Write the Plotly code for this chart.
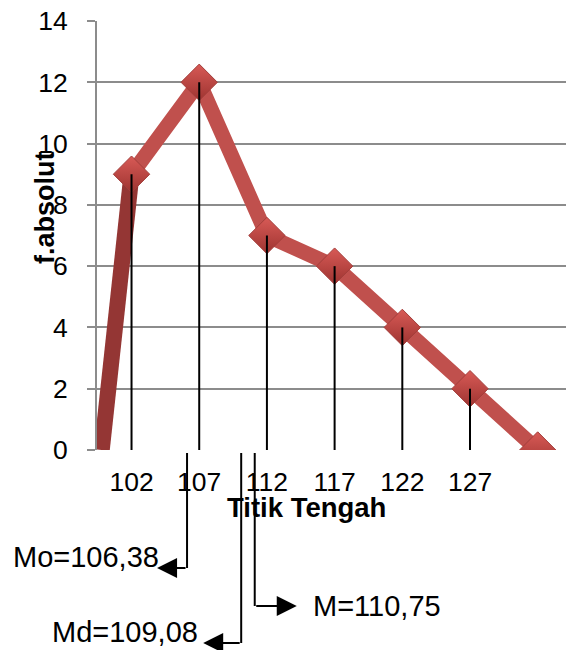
import plotly.graph_objects as go

# ---- data ----
categories = [102, 107, 112, 117, 122, 127]          # titik tengah
f_absolut = [9, 12, 7, 6, 4, 2]                       # frekuensi absolut
poly_start_x = 99.8                                   # polygon closes at y=0
poly_end_x = 132
y_ticks = [0, 2, 4, 6, 8, 10, 12, 14]

stat_labels = ["Mo=106,38", "Md=109,08", "M=110,75"]
stat_line_x = [106.1, 110.1, 111.1]                   # where the pointer lines are drawn

RED = "#C0504D"
DARK = "#943634"
GRID = "#8C8C8C"
FONT = "Liberation Sans, Arial, sans-serif"

L, T, PW, PH = 97, 21, 469, 429
X0, X1 = 99.45, 134.09
PX_PER_UNIT = PW / (X1 - X0)

def px_x(p):
    return (p - L) / PW

def px_y(p):
    return (T + PH - p) / PH

fig = go.Figure()

# first (shadowed) segment
fig.add_trace(go.Scatter(
    x=[poly_start_x, categories[0]], y=[0, f_absolut[0]],
    mode="lines", line=dict(color=DARK, width=16), hoverinfo="skip", showlegend=False))

# main polygon
fig.add_trace(go.Scatter(
    x=categories + [poly_end_x], y=f_absolut + [0],
    mode="lines+markers",
    line=dict(color=RED, width=15),
    marker=dict(symbol="diamond", size=28, color="#D85A56",
                gradient=dict(type="vertical", color="#9E3431"),
                line=dict(color="#A33E3B", width=1)),
    showlegend=False))

# vertical drop lines from each point to the axis
vx, vy = [], []
for c, v in zip(categories, f_absolut):
    vx += [c, c, None]
    vy += [v, 0, None]
fig.add_trace(go.Scatter(x=vx, y=vy, mode="lines",
                         line=dict(color="black", width=2), hoverinfo="skip", showlegend=False))

shapes = []
annotations = []
pointer_specs = [
    # (bottom pixel, direction, arrow length px, text x px, text y px)
    (568, -1, 30, 13, 557),
    (643, -1, 38, 52, 632),
    (606, +1, 42, 313, 606),
]
for (bot, d, length, tx, ty), lx, lab in zip(pointer_specs, stat_line_x, stat_labels):
    shapes.append(dict(type="line", xref="x", yref="paper", x0=lx, x1=lx,
                       y0=px_y(453), y1=px_y(bot), line=dict(color="black", width=2)))
    tip_x = lx + d * length / PX_PER_UNIT
    annotations.append(dict(xref="x", yref="paper", x=tip_x, y=px_y(bot),
                            ax=-d * length, ay=0, axref="pixel", ayref="pixel",
                            text="", showarrow=True, arrowhead=2, arrowsize=2,
                            arrowwidth=2, arrowcolor="black"))
    annotations.append(dict(xref="paper", yref="paper", x=px_x(tx - 2), y=px_y(ty),
                            xanchor="left", yanchor="middle", text=lab, showarrow=False,
                            font=dict(family=FONT, size=29, color="black")))

# axis titles
annotations.append(dict(xref="paper", yref="paper", x=px_x(306), y=px_y(507),
                        xanchor="center", yanchor="middle", text="<b>Titik Tengah</b>",
                        showarrow=False, font=dict(family=FONT, size=27.5, color="black")))
annotations.append(dict(xref="paper", yref="paper", x=px_x(45), y=px_y(208),
                        xanchor="center", yanchor="middle", text="<b>f.absolut</b>",
                        textangle=-90, showarrow=False,
                        font=dict(family=FONT, size=27, color="black")))

fig.update_layout(
    width=566, height=650,
    margin=dict(l=L, r=566 - L - PW, t=T, b=650 - T - PH, autoexpand=False),
    paper_bgcolor="white", plot_bgcolor="white",
    font=dict(family=FONT, size=26.5, color="black"),
    shapes=shapes, annotations=annotations,
    xaxis=dict(range=[X0, X1], tickmode="array", tickvals=categories,
               ticktext=[str(c) for c in categories], showgrid=False, zeroline=False,
               showline=False, ticks="", ticklabelstandoff=13, automargin=False),
    yaxis=dict(range=[0, 14], tickmode="array", tickvals=y_ticks,
               showgrid=True, gridcolor=GRID, gridwidth=2, zeroline=False,
               showline=True, linecolor=GRID, linewidth=2,
               ticks="outside", ticklen=8, tickcolor=GRID, tickwidth=2,
               ticklabelstandoff=14, automargin=False),
)

fig.write_html("out.html", config={"displayModeBar": False},
               post_script="document.body.style.margin='0';document.body.style.overflow='hidden';")
